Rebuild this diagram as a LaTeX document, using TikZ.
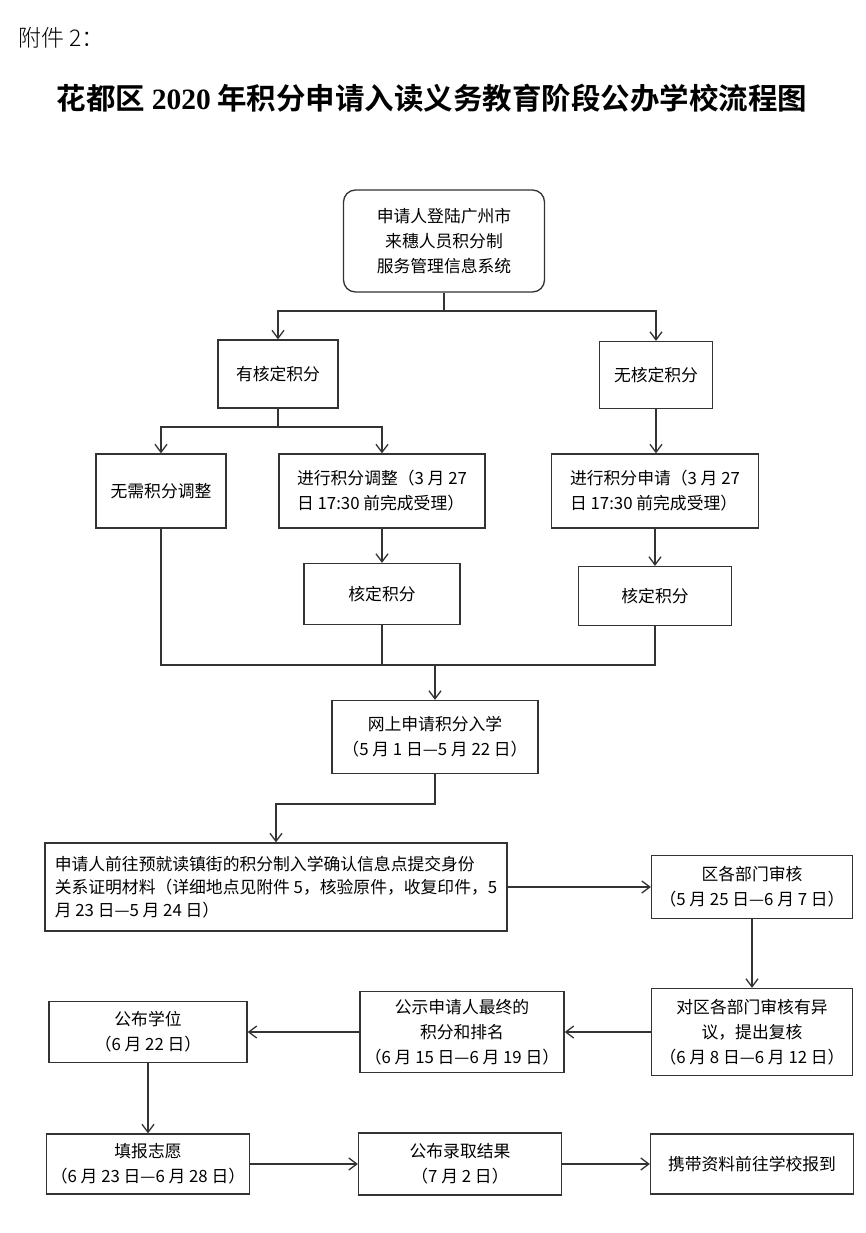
\documentclass[tikz,border=0pt]{standalone}
\usepackage{fontspec}
\setmainfont{Noto Sans CJK SC}
\newfontfamily\titlefont{Noto Sans CJK SC Bold}
\newfontfamily\titlenum{Liberation Serif Bold}
\newfontfamily\notefont{Noto Sans CJK SC Light}
\usetikzlibrary{arrows.meta}

\begin{document}
\begin{tikzpicture}[x=1pt,y=-1pt]
  \useasboundingbox (0,0) rectangle (866,1233);
  \tikzstyle{box}=[draw=black!80,line width=1.3pt,fill=white,inner sep=4pt,
                   font=\fontsize{16.8}{25}\selectfont,align=center]
  \tikzstyle{go}=[draw=black!80,line width=1.3pt,-{Straight Barb[length=8pt,width=12pt]}]
  \tikzstyle{link}=[draw=black!80,line width=1.3pt]

  % heading
  \node [anchor=west,font=\notefont\fontsize{23}{23}\selectfont] (annex) at (15,38) {附件 2：};
  \node [font=\titlefont\fontsize{29.5}{31}\selectfont] (title) at (432,98)
        {花都区 {\titlenum 2020} 年积分申请入读义务教育阶段公办学校流程图};

  % first part
  \node [box,rounded corners=12pt,minimum width=201pt,minimum height=102pt] (login) at (444,241)
        {申请人登陆广州市\\来穗人员积分制\\服务管理信息系统};
  \node [box,minimum width=120pt,minimum height=68pt] (have) at (278,374) {有核定积分};
  \node [box,minimum width=113pt,minimum height=67pt] (none) at (656,375) {无核定积分};
  \node [box,minimum width=130pt,minimum height=74pt] (noadj) at (161,491) {无需积分调整};
  \node [box,align=left,minimum width=206pt,minimum height=74pt] (adj) at (382,491)
        {进行积分调整（3 月 27\\日 17:30 前完成受理）};
  \node [box,align=left,minimum width=207pt,minimum height=74pt] (apply) at (655,491)
        {进行积分申请（3 月 27\\日 17:30 前完成受理）};
  \node [box,minimum width=156pt,minimum height=61pt] (chkA) at (382,594) {核定积分};
  \node [box,minimum width=153pt,minimum height=59pt] (chkB) at (655,596) {核定积分};
  \node [box,minimum width=206pt,minimum height=73pt] (online) at (435,737)
        {网上申请积分入学\\（5 月 1 日—5 月 22 日）};

  % second part
  \node [box,align=left,font=\fontsize{16.8}{23}\selectfont,minimum width=462pt,minimum height=88pt] (submit) at (276,887)
        {申请人前往预就读镇街的积分制入学确认信息点提交身份\\关系证明材料（详细地点见附件 5，核验原件，收复印件，5\\月 23 日—5 月 24 日）};
  \node [box,minimum width=201pt,minimum height=63pt] (review) at (752,887)
        {区各部门审核\\（5 月 25 日—6 月 7 日）};
  \node [box,minimum width=201pt,minimum height=87pt] (recheck) at (752,1032)
        {对区各部门审核有异\\议，提出复核\\（6 月 8 日—6 月 12 日）};
  \node [box,minimum width=204pt,minimum height=81pt] (publicity) at (462,1032)
        {公示申请人最终的\\积分和排名\\（6 月 15 日—6 月 19 日）};
  \node [box,minimum width=198pt,minimum height=61pt] (seats) at (148,1032)
        {公布学位\\（6 月 22 日）};
  \node [box,minimum width=200pt,minimum height=60pt] (wish) at (148,1164)
        {填报志愿\\（6 月 23 日—6 月 28 日）};
  \node [box,minimum width=203pt,minimum height=62pt] (result) at (460,1164)
        {公布录取结果\\（7 月 2 日）};
  \node [box,minimum width=203pt,minimum height=60pt] (report) at (752,1164)
        {携带资料前往学校报到};

  % junctions
  \coordinate (forkA) at (444,311);
  \coordinate (forkB) at (278,427);
  \coordinate (join) at (435,665);
  \coordinate (bend) at (435,804);

  \draw [link] (login) -- (forkA);
  \draw [go] (forkA) -| (have);
  \draw [go] (forkA) -| (none);
  \draw [link] (have) -- (forkB);
  \draw [go] (forkB) -| (noadj);
  \draw [go] (forkB) -| (adj);
  \draw [go] (none) -- (none |- apply.north);
  \draw [go] (adj) -- (chkA);
  \draw [go] (apply) -- (chkB);
  \draw [link] (noadj) |- (chkB |- join) -- (chkB);
  \draw [link] (chkA) -- (chkA |- join);
  \draw [go] (join) -- (online);
  \draw [go] (online) -- (bend) -| (submit);
  \draw [go] (submit) -- (review);
  \draw [go] (review) -- (recheck);
  \draw [go] (recheck) -- (publicity);
  \draw [go] (publicity) -- (seats);
  \draw [go] (seats) -- (wish);
  \draw [go] (wish) -- (result);
  \draw [go] (result) -- (report);

\end{tikzpicture}
\end{document}
